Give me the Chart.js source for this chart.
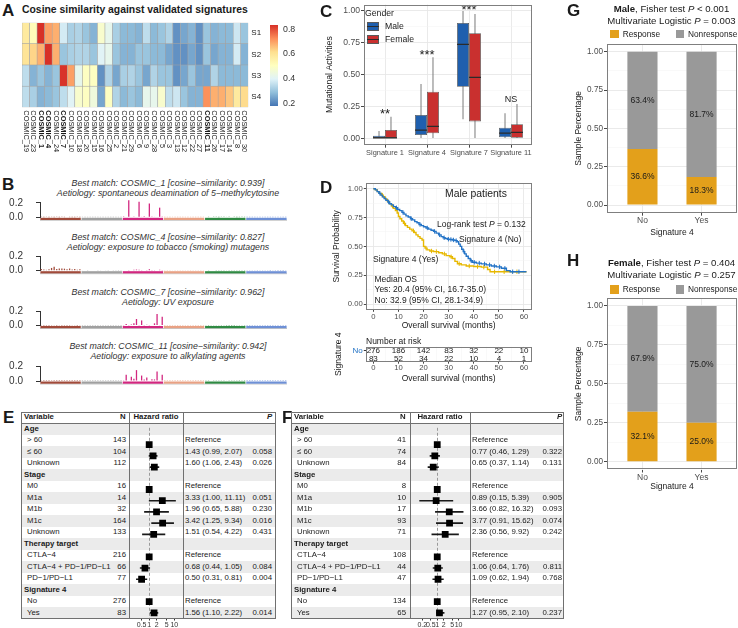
<!DOCTYPE html>
<html>
<head>
<meta charset="utf-8">
<script src="https://cdn.jsdelivr.net/npm/chart.js@4.4.1/dist/chart.umd.min.js"></script>
<style>
html, body { margin: 0; padding: 0; background: #fff; }
#fig { position: relative; width: 738px; height: 628px; overflow: hidden; font-family: "Liberation Sans", Arial, sans-serif; color: #1a1a1a; }
#fig canvas { position: absolute; }
.tx { position: absolute; white-space: nowrap; line-height: 1; }
.bx { position: absolute; box-sizing: border-box; }
</style>
</head>
<body>
<div id="fig"></div>
<script>
// ---- A: cosine similarity heatmap ----
var cosmicLabels = ['COSMIC_19','COSMIC_23','COSMIC_1','COSMIC_4','COSMIC_24','COSMIC_7','COSMIC_10','COSMIC_18','COSMIC_20','COSMIC_15',
  'COSMIC_16','COSMIC_25','COSMIC_2','COSMIC_21','COSMIC_29','COSMIC_6','COSMIC_9','COSMIC_28','COSMIC_5','COSMIC_3',
  'COSMIC_13','COSMIC_12','COSMIC_22','COSMIC_27','COSMIC_11','COSMIC_26','COSMIC_17','COSMIC_14','COSMIC_8','COSMIC_30'];
var boldCosmic = ['COSMIC_1','COSMIC_4','COSMIC_7','COSMIC_11'];
var sigRows = ['S1','S2','S3','S4'];
var cosS1 = [0.58,0.52,0.84,0.70,0.68,0.38,0.32,0.33,0.30,0.27,0.48,0.42,0.32,0.28,0.28,0.27,0.35,0.28,0.30,0.33,0.22,0.25,0.27,0.22,0.30,0.27,0.28,0.28,0.37,0.30];
var cosS2 = [0.60,0.63,0.68,0.84,0.68,0.30,0.32,0.33,0.33,0.30,0.40,0.42,0.30,0.27,0.27,0.30,0.30,0.28,0.28,0.25,0.22,0.22,0.25,0.22,0.30,0.25,0.27,0.27,0.38,0.27];
var cosS3 = [0.35,0.27,0.30,0.27,0.30,0.83,0.70,0.42,0.50,0.50,0.22,0.33,0.25,0.32,0.33,0.30,0.25,0.33,0.30,0.30,0.22,0.25,0.30,0.25,0.25,0.33,0.28,0.28,0.28,0.28];
var cosS4 = [0.35,0.32,0.27,0.28,0.30,0.35,0.40,0.48,0.50,0.45,0.25,0.50,0.33,0.28,0.30,0.28,0.42,0.42,0.48,0.35,0.37,0.30,0.27,0.27,0.72,0.68,0.68,0.65,0.58,0.62];
var colourbarTicks = [0.2, 0.4, 0.6, 0.8];

// ---- B: signature profiles (96 trinucleotide channels) ----
var mutTypes = ['C>A','C>G','C>T','T>A','T>C','T>G'];
var mutColours = ['#A14A3A','#A0A0A0','#D2267F','#E9A184','#2F8A43','#6E90D6'];
var sig1Profile = [
  0.004,0.002,0.004,0.002,0.003,0.002,0.005,0.002,0.003,0.002,0.006,0.002,0.002,0.002,0.004,0.002,
  0.002,0.001,0.001,0.001,0.001,0.001,0.001,0.001,0.002,0.001,0.001,0.001,0.001,0.001,0.001,0.001,
  0.012,0.006,0.236,0.009,0.010,0.007,0.214,0.008,0.016,0.009,0.190,0.010,0.006,0.006,0.133,0.005,
  0.002,0.001,0.002,0.002,0.001,0.001,0.001,0.001,0.001,0.001,0.001,0.001,0.001,0.001,0.001,0.002,
  0.007,0.003,0.009,0.004,0.003,0.002,0.004,0.003,0.008,0.003,0.007,0.004,0.002,0.002,0.003,0.002,
  0.001,0.001,0.001,0.001,0.001,0.001,0.001,0.001,0.001,0.001,0.001,0.001,0.001,0.001,0.001,0.001];
var sig2Profile = [
  0.022,0.018,0.012,0.020,0.038,0.055,0.025,0.032,0.030,0.028,0.020,0.030,0.018,0.022,0.014,0.020,
  0.008,0.005,0.003,0.006,0.006,0.005,0.003,0.005,0.006,0.005,0.003,0.005,0.004,0.004,0.002,0.004,
  0.007,0.005,0.010,0.006,0.012,0.016,0.012,0.010,0.006,0.010,0.020,0.008,0.004,0.006,0.013,0.004,
  0.004,0.003,0.004,0.005,0.003,0.003,0.003,0.004,0.004,0.003,0.003,0.004,0.003,0.003,0.002,0.004,
  0.006,0.004,0.006,0.005,0.004,0.003,0.004,0.004,0.005,0.003,0.004,0.003,0.003,0.003,0.003,0.003,
  0.002,0.002,0.002,0.002,0.002,0.002,0.003,0.002,0.002,0.001,0.002,0.002,0.001,0.001,0.001,0.002];
var sig3Profile = [
  0.002,0.001,0.001,0.001,0.002,0.002,0.001,0.002,0.001,0.001,0.001,0.001,0.002,0.002,0.001,0.002,
  0.001,0.001,0.001,0.001,0.001,0.001,0.001,0.001,0.001,0.001,0.001,0.001,0.001,0.001,0.001,0.001,
  0.004,0.020,0.003,0.015,0.030,0.090,0.004,0.070,0.005,0.010,0.002,0.006,0.030,0.160,0.005,0.120,
  0.001,0.001,0.001,0.001,0.001,0.001,0.001,0.001,0.001,0.001,0.001,0.001,0.001,0.001,0.001,0.001,
  0.002,0.001,0.002,0.002,0.002,0.003,0.002,0.002,0.001,0.001,0.001,0.001,0.002,0.003,0.002,0.002,
  0.001,0.001,0.001,0.001,0.001,0.001,0.001,0.001,0.001,0.001,0.001,0.001,0.001,0.001,0.001,0.001];
var sig4Profile = [
  0.002,0.001,0.001,0.001,0.002,0.001,0.001,0.001,0.001,0.001,0.001,0.001,0.001,0.001,0.001,0.001,
  0.001,0.001,0.001,0.001,0.001,0.001,0.001,0.001,0.001,0.001,0.001,0.001,0.001,0.001,0.001,0.001,
  0.010,0.085,0.008,0.060,0.030,0.150,0.008,0.075,0.020,0.050,0.006,0.025,0.022,0.130,0.008,0.085,
  0.001,0.001,0.001,0.001,0.001,0.001,0.001,0.001,0.001,0.001,0.001,0.001,0.001,0.001,0.001,0.001,
  0.004,0.003,0.006,0.004,0.003,0.003,0.004,0.003,0.006,0.003,0.005,0.004,0.002,0.002,0.003,0.002,
  0.001,0.001,0.001,0.001,0.001,0.001,0.001,0.001,0.001,0.001,0.001,0.001,0.001,0.001,0.001,0.001];
var sigTitles = [
  ['Best match: COSMIC_1 [cosine\u2212similarity: 0.939]', 'Aetiology: spontaneous deamination of 5\u2212methylcytosine'],
  ['Best match: COSMIC_4 [cosine\u2212similarity: 0.827]', 'Aetiology: exposure to tobacco (smoking) mutagens'],
  ['Best match: COSMIC_7 [cosine\u2212similarity: 0.962]', 'Aetiology: UV exposure'],
  ['Best match: COSMIC_11 [cosine\u2212similarity: 0.942]', 'Aetiology: exposure to alkylating agents']];

// ---- C: mutational activities by gender ----
var sigGroups = ['Signature 1','Signature 4','Signature 7','Signature 11'];
var maleMin = [0, 0, 0.15, 0];
var maleQ1 = [0, 0.026, 0.405, 0.008];
var maleMed = [0.004, 0.065, 0.738, 0.040];
var maleQ3 = [0.020, 0.183, 0.905, 0.084];
var maleMax = [0.058, 0.427, 1.0, 0.196];
var femaleMin = [0, 0, 0, 0];
var femaleQ1 = [0, 0.040, 0.133, 0.005];
var femaleMed = [0.004, 0.094, 0.479, 0.047];
var femaleQ3 = [0.065, 0.366, 0.825, 0.110];
var femaleMax = [0.170, 0.636, 0.977, 0.270];
var sigStars = ['**','***','***','NS'];

// ---- D: Kaplan-Meier, male patients ----
var kmTimesNo = [0,0.8,1.5,2.2,3,3.6,4.3,5,5.8,6.5,7.2,8,8.9,9.7,10.5,11.4,12.2,13,13.9,14.8,15.6,16.5,17.4,18.2,19.1,20,21,22,23,24,
  25,26,27,27.8,28.6,29.5,30.5,31.5,32.5,33.4,34,34.6,35.2,35.8,36.4,37,37.8,38.6,39.5,41,43,45,47,49,51,53,54.5,57,59,61];
var kmSurvNo = [1,0.99,0.975,0.96,0.945,0.93,0.915,0.9,0.885,0.87,0.86,0.845,0.835,0.82,0.81,0.795,0.78,0.765,0.755,0.74,0.73,0.715,0.705,0.69,0.68,0.67,0.66,0.65,0.64,0.63,
  0.615,0.6,0.585,0.575,0.568,0.562,0.56,0.556,0.55,0.54,0.52,0.5,0.475,0.455,0.435,0.415,0.395,0.375,0.362,0.355,0.348,0.34,0.33,0.322,0.31,0.29,0.28,0.28,0.28,0.28];
var censorNo = [2.6,6.1,9.2,11.8,15.1,18.6,21.5,24.4,26.4,28.2,29.9,30.9,31.9,33.0,36.1,39.0,40.2,42.2,44.3,46.3,48.2,50.3,52.4,55.5,58.0];
var kmTimesYes = [0,0.8,1.6,2.4,3.2,4,4.8,5.6,6.4,7.2,8,8.8,9.5,10,10.6,11.3,12,12.8,13.6,14.5,15.4,16.3,17,17.8,18.6,19.4,20,20.6,21.4,22.5,
  24,26,27.5,29,30.5,31.5,32.5,33.5,35,37,40,43,45.5,46.5,50,55,61];
var kmSurvYes = [1,0.99,0.975,0.96,0.945,0.93,0.91,0.89,0.87,0.85,0.83,0.81,0.79,0.76,0.74,0.72,0.7,0.68,0.665,0.65,0.635,0.62,0.6,0.585,0.57,0.555,0.5,0.485,0.47,0.46,
  0.455,0.445,0.435,0.42,0.41,0.395,0.37,0.35,0.34,0.33,0.325,0.32,0.3,0.28,0.28,0.28,0.28];
var censorYes = [3.6,7.6,12.4,16.0,21.0,23.2,25.1,28.3,31.0,34.2,38.2,41.5,44.0,48.3,52.1,57.2];
var riskGroups = ['No','Yes'];
var riskTimes = [0,10,20,30,40,50,60];
var riskNo = [276,186,142,83,32,22,10];
var riskYes = [83,52,34,22,10,4,1];

// ---- E / F: forest plots ----
var forestVars = ['Age','> 60','\u2264 60','Unknown','Stage','M0','M1a','M1b','M1c','Unknown','Therapy target',
  'CTLA\u22124','CTLA\u22124 + PD\u22121/PD\u2212L1','PD\u22121/PD\u2212L1','Signature 4','No','Yes'];
var maleN = [null,143,104,112,null,16,14,32,164,133,null,216,66,77,null,276,83];
var maleHR = [null,1,1.43,1.60,null,1,3.33,1.96,3.42,1.51,null,1,0.68,0.50,null,1,1.56];
var maleLo = [null,null,0.99,1.06,null,null,1.00,0.65,1.25,0.54,null,null,0.44,0.31,null,null,1.10];
var maleHi = [null,null,2.07,2.43,null,null,11.11,5.88,9.34,4.22,null,null,1.05,0.81,null,null,2.22];
var maleP = [null,null,'0.058','0.026',null,null,'0.051','0.230','0.016','0.431',null,null,'0.084','0.004',null,null,'0.014'];
var femaleN = [null,41,74,84,null,8,10,17,93,71,null,108,44,47,null,134,65];
var femaleHR = [null,1,0.77,0.65,null,1,0.89,3.66,3.77,2.36,null,1,1.06,1.09,null,1,1.27];
var femaleLo = [null,null,0.46,0.37,null,null,0.15,0.82,0.91,0.56,null,null,0.64,0.62,null,null,0.95];
var femaleHi = [null,null,1.29,1.14,null,null,5.39,16.32,15.62,9.92,null,null,1.76,1.94,null,null,2.10];
var femaleP = [null,null,'0.322','0.131',null,null,'0.905','0.093','0.074','0.242',null,null,'0.811','0.768',null,null,'0.237'];

// ---- G / H: response by signature 4 ----
var respGroups = ['No','Yes'];
var maleResponse = [0.366, 0.183];
var maleNonresponse = [0.634, 0.817];
var femaleResponse = [0.321, 0.250];
var femaleNonresponse = [0.679, 0.750];

var FONT = '"Liberation Sans", Arial, sans-serif';
Chart.defaults.font.family = FONT;
Chart.defaults.font.size = 8;
Chart.defaults.color = '#4d4d4d';
Chart.defaults.animation = false;
Chart.defaults.plugins.legend.display = false;
Chart.defaults.plugins.tooltip.enabled = false;

var fig = document.getElementById('fig');

function mk(left, top, w, h) {
  var c = document.createElement('canvas');
  c.width = w; c.height = h;
  c.style.left = left + 'px'; c.style.top = top + 'px';
  c.style.width = w + 'px'; c.style.height = h + 'px';
  fig.appendChild(c);
  return c;
}

function txt(html, x, cy, size, css, centred) {
  var d = document.createElement('div');
  d.className = 'tx';
  d.innerHTML = html;
  d.style.left = x + 'px';
  d.style.top = (cy - size / 2) + 'px';
  d.style.fontSize = size + 'px';
  if (css) d.style.cssText += css;
  if (centred) d.style.transform = 'translateX(-50%)';
  fig.appendChild(d);
  return d;
}

function box(x, y, w, h, css) {
  var d = document.createElement('div');
  d.className = 'bx';
  d.style.cssText += 'left:' + x + 'px;top:' + y + 'px;width:' + w + 'px;height:' + h + 'px;' + (css || '');
  fig.appendChild(d);
  return d;
}

// fixes an axis box size and drops the label overhang padding so the plot area lands where we want it
function fitBox(w, h) {
  return function (s) {
    if (w != null) s.width = w;
    if (h != null) s.height = h;
    s.paddingLeft = s.paddingRight = s.paddingTop = s.paddingBottom = 0;
  };
}

function ggTicks(majors, minors) {
  return function (s) {
    s.ticks = majors.map(function (v) { return {value: v, mj: true}; })
      .concat(minors.map(function (v) { return {value: v, mj: false}; }))
      .sort(function (a, b) { return a.value - b.value; });
  };
}
function ggLabel(fmt) {
  return function (v, i, ticks) { return ticks[i].mj ? fmt(v) : ''; };
}
var ggGrid = {
  color: function (c) { return c.tick && c.tick.mj ? '#e8e8e8' : '#f3f3f3'; },
  lineWidth: function (c) { return c.tick && c.tick.mj ? 0.9 : 0.5; },
  tickColor: function (c) { return c.tick && c.tick.mj ? '#333' : 'rgba(0,0,0,0)'; },
  tickLength: 3
};

var panelBorder = {
  id: 'panelBorder',
  afterDatasetsDraw: function (c) {
    var a = c.chartArea, ctx = c.ctx;
    ctx.save();
    ctx.strokeStyle = '#7f7f7f';
    ctx.lineWidth = 1;
    ctx.strokeRect(Math.round(a.left) + 0.5, Math.round(a.top) + 0.5, Math.round(a.width) - 1, Math.round(a.height) - 1);
    ctx.restore();
  }
};

function hex(h) { return [1, 3, 5].map(function (k) { return parseInt(h.substr(k, 2), 16); }); }
var heatPalette = ['#4575B4','#91BFDB','#E0F3F8','#FFFFBF','#FEE090','#FC8D59','#D73027'];
var heatMin = 0.178, heatMax = 0.834;
function heatColour(v) {
  var t = Math.min(1, Math.max(0, (v - heatMin) / (heatMax - heatMin))) * (heatPalette.length - 1);
  var i = Math.min(Math.floor(t), heatPalette.length - 2), f = t - i;
  var a = hex(heatPalette[i]), b = hex(heatPalette[i + 1]);
  return 'rgb(' + [0, 1, 2].map(function (k) { return Math.round(a[k] + (b[k] - a[k]) * f); }).join(',') + ')';
}

// ================= A =================
txt('A', 2, 10, 17, 'font-weight:bold;');
txt('Cosine similarity against validated signatures', 22, 10.5, 10.4, 'font-weight:bold;');

var heatLabels = {
  id: 'heatLabels',
  afterDraw: function (c) {
    var ctx = c.ctx, a = c.chartArea, xs = c.scales.x, ys = c.scales.y;
    ctx.save();
    ctx.fillStyle = '#1a1a1a';
    ctx.textBaseline = 'middle';
    ctx.textAlign = 'left';
    cosmicLabels.forEach(function (lab, i) {
      ctx.save();
      ctx.translate(xs.getPixelForValue(i), a.bottom + 3);
      ctx.rotate(Math.PI / 2);
      ctx.font = (boldCosmic.indexOf(lab) >= 0 ? 'bold ' : '') + '7.4px ' + FONT;
      ctx.fillText(lab, 0, 0);
      ctx.restore();
    });
    ctx.font = '8px ' + FONT;
    sigRows.forEach(function (r, k) { ctx.fillText(r, a.right + 3, ys.getPixelForValue(3.5 - k)); });
    ctx.restore();
  }
};
new Chart(mk(0, 18, 300, 145), {
  type: 'bar',
  data: {
    labels: cosmicLabels,
    datasets: [cosS4, cosS3, cosS2, cosS1].map(function (vals) {
      return {
        data: vals.map(function () { return 1; }),
        backgroundColor: vals.map(heatColour),
        borderColor: '#a3a3a3', borderWidth: 0.6, borderSkipped: false,
        barPercentage: 1, categoryPercentage: 1
      };
    })
  },
  options: {
    responsive: false,
    layout: {padding: {left: 22, top: 4.7, right: 51.7, bottom: 55.7}},
    scales: {
      x: {display: false, stacked: true},
      y: {display: false, stacked: true, min: 0, max: 4}
    }
  },
  plugins: [heatLabels]
});
box(270, 25, 8, 81, 'background:linear-gradient(to top,' + heatPalette.join(',') + ');');
colourbarTicks.forEach(function (v) {
  var y = 106 - (v - heatMin) / (heatMax - heatMin) * 81;
  box(278, y, 2, 0.8, 'background:#fff;');
  txt(v.toFixed(1), 283, y, 8.8, 'color:#333;');
});

// ================= B =================
txt('B', 2, 184, 17, 'font-weight:bold;');
var profileZero = [217.3, 270.7, 325.5, 381];
var titleRows = [[183.3, 193.3], [237.3, 247.3], [292.3, 302], [346.5, 356]];
var contexts = [];
mutTypes.forEach(function (m) {
  ['A','C','G','T'].forEach(function (l) {
    ['A','C','G','T'].forEach(function (r) { contexts.push(l + '[' + m + ']' + r); });
  });
});
var mutStrip = {
  id: 'mutStrip',
  afterDatasetsDraw: function (c) {
    var xs = c.scales.x, a = c.chartArea, ctx = c.ctx;
    var step = xs.getPixelForValue(1) - xs.getPixelForValue(0);
    ctx.save();
    ctx.fillStyle = '#c8c8c8';
    ctx.fillRect(a.left, a.bottom + 2.5, a.width, 1);
    mutTypes.forEach(function (m, g) {
      var x1 = xs.getPixelForValue(g * 16) - step / 2 + 0.4;
      var x2 = xs.getPixelForValue(g * 16 + 15) + step / 2 - 0.4;
      ctx.fillStyle = mutColours[g];
      ctx.fillRect(x1, a.bottom + 0.5, x2 - x1, 2.2);
    });
    ctx.restore();
  }
};
[sig1Profile, sig2Profile, sig3Profile, sig4Profile].forEach(function (prof, k) {
  var y0 = profileZero[k], top = Math.round(y0 - 27), h = 36;
  titleRows[k].forEach(function (cy, j) {
    txt(sigTitles[k][j], 168, cy, 8.8, 'font-style:italic;color:#333;', true);
  });
  new Chart(mk(0, top, 295, h), {
    type: 'bar',
    data: {
      labels: contexts,
      datasets: [{
        data: prof,
        backgroundColor: contexts.map(function (c, i) { return mutColours[Math.floor(i / 16)]; }),
        barPercentage: 0.5, categoryPercentage: 1, clip: false
      }]
    },
    options: {
      responsive: false,
      layout: {padding: {left: 0, right: 8, top: y0 - 14.5 - top, bottom: top + h - y0}},
      scales: {
        x: {display: false},
        y: {
          min: 0, max: 0.2,
          afterBuildTicks: function (s) { s.ticks = [{value: 0}, {value: 0.2}]; },
          afterFit: fitBox(40, null),
          ticks: {autoSkip: false, padding: 13, font: {size: 10}, color: '#333', callback: function (v) { return v.toFixed(1); }},
          grid: {drawOnChartArea: false, tickLength: 4, tickColor: '#333', lineWidth: 1},
          border: {display: true, color: '#333', width: 1}
        }
      }
    },
    plugins: [mutStrip]
  });
});

// ================= C =================
txt('C', 320, 11, 17, 'font-weight:bold;');
function boxSet(stack, mins, q1, med, q3, maxs, fill) {
  return [
    {label: stack + ' median', stack: stack, data: med.map(function (m) { return [m - 0.005, m + 0.005]; }),
      backgroundColor: '#2b2b2b', barPercentage: 1, categoryPercentage: 0.57},
    {label: stack, stack: stack, data: q1.map(function (q, i) { return [q, q3[i]]; }),
      backgroundColor: fill, borderColor: '#5a5a5a', borderWidth: 0.8, borderSkipped: false,
      barPercentage: 1, categoryPercentage: 0.57},
    {label: stack + ' whisker', stack: stack, data: mins.map(function (m, i) { return [m, maxs[i]]; }),
      backgroundColor: '#7a7a7a', maxBarThickness: 1, barPercentage: 1, categoryPercentage: 0.57}
  ];
}
var starLabels = {
  id: 'starLabels',
  afterDatasetsDraw: function (c) {
    var ctx = c.ctx, xs = c.scales.x, ys = c.scales.y;
    ctx.save();
    ctx.fillStyle = '#1a1a1a';
    ctx.textAlign = 'center';
    ctx.textBaseline = 'alphabetic';
    sigGroups.forEach(function (g, i) {
      var py = ys.getPixelForValue(Math.max(maleMax[i], femaleMax[i]));
      var ns = sigStars[i] === 'NS';
      ctx.font = (ns ? '9px ' : '13px ') + FONT;
      ctx.fillText(sigStars[i], xs.getPixelForValue(i), ns ? py - 2.4 : Math.max(py + 1.5, 14));
    });
    ctx.restore();
  }
};
new Chart(mk(322, 0, 216, 165), {
  type: 'bar',
  data: {
    labels: sigGroups,
    datasets: boxSet('Male', maleMin, maleQ1, maleMed, maleQ3, maleMax, '#1F5FAE')
      .concat(boxSet('Female', femaleMin, femaleQ1, femaleMed, femaleQ3, femaleMax, '#C9302F'))
  },
  options: {
    responsive: false,
    layout: {padding: {left: 0, right: 6, top: 4.6, bottom: 0}},
    scales: {
      x: {
        stacked: true, offset: true,
        afterFit: fitBox(null, 20.3),
        ticks: {autoSkip: false, maxRotation: 0, padding: 1.2, font: {size: 7.4}},
        grid: {offset: false, color: '#e8e8e8', lineWidth: 0.9, tickColor: '#333', tickLength: 3},
        border: {display: false}
      },
      y: {
        stacked: false, min: -0.05, max: 1.05,
        afterBuildTicks: ggTicks([0, 0.25, 0.5, 0.75, 1], [0.125, 0.375, 0.625, 0.875]),
        afterFit: fitBox(42, null),
        ticks: {autoSkip: false, padding: 1, font: {size: 8.6}, callback: ggLabel(function (v) { return v.toFixed(2); })},
        grid: ggGrid,
        border: {display: false},
        title: {display: true, text: 'Mutational Activities', color: '#1a1a1a', font: {size: 8.7}, padding: {top: 2.5, bottom: 0}}
      }
    }
  },
  plugins: [starLabels, panelBorder]
});
txt('Gender', 365, 13.3, 8.7);
[['Male', '#1F5FAE', 26], ['Female', '#C9302F', 39.5]].forEach(function (g) {
  box(367, g[2] - 4.5, 11.5, 9, 'background:' + g[1] + ';border:0.8px solid #5a5a5a;');
  box(367, g[2] - 0.5, 11.5, 1, 'background:#2b2b2b;');
  txt(g[0], 385, g[2], 8.7);
});

// ================= D =================
txt('D', 320, 187, 17, 'font-weight:bold;');
// survival level of a step curve at time t, used to sit the censor ticks on their curve
function survAt(times, surv, t) {
  var s = surv[0];
  for (var i = 0; i < times.length && times[i] <= t; i++) s = surv[i];
  return s;
}
var ggX60 = ggTicks([0, 10, 20, 30, 40, 50, 60], [5, 15, 25, 35, 45, 55]);
function censorSet(times, surv, cens, colour) {
  return {
    data: cens.map(function (t) { return {x: t, y: survAt(times, surv, t)}; }),
    showLine: false, pointStyle: 'line', rotation: 90, pointRadius: 2.2,
    pointBorderColor: colour, pointBorderWidth: 1
  };
}
new Chart(mk(322, 178, 216, 156), {
  type: 'line',
  data: {
    datasets: [
      censorSet(kmTimesNo, kmSurvNo, censorNo, '#2373C6'),
      {data: kmTimesNo.map(function (t, i) { return {x: t, y: kmSurvNo[i]}; }),
        borderColor: '#2373C6', borderWidth: 1.4, stepped: true, pointRadius: 0},
      censorSet(kmTimesYes, kmSurvYes, censorYes, '#E7B800'),
      {data: kmTimesYes.map(function (t, i) { return {x: t, y: kmSurvYes[i]}; }),
        borderColor: '#E7B800', borderWidth: 1.4, stepped: true, pointRadius: 0}
    ]
  },
  options: {
    responsive: false,
    layout: {padding: {left: 0, right: 6.5, top: 3.5, bottom: 0}},
    scales: {
      x: {
        type: 'linear', min: -3, max: 63,
        afterBuildTicks: ggX60,
        afterFit: fitBox(null, 24.2),
        ticks: {autoSkip: false, maxRotation: 0, padding: 0, font: {size: 7.7}, callback: ggLabel(function (v) { return String(v); })},
        grid: Object.assign({}, ggGrid, {tickLength: 2}),
        border: {display: false},
        title: {display: true, text: 'Overall survival (months)', color: '#1a1a1a', font: {size: 8.5}, padding: {top: 0, bottom: 2.9}}
      },
      y: {
        min: -0.05, max: 1.05,
        afterBuildTicks: ggTicks([0, 0.25, 0.5, 0.75, 1], [0.125, 0.375, 0.625, 0.875]),
        afterFit: fitBox(43.8, null),
        ticks: {autoSkip: false, padding: 1, font: {size: 7.7}, callback: ggLabel(function (v) { return v.toFixed(2); })},
        grid: Object.assign({}, ggGrid, {tickLength: 2}),
        border: {display: false},
        title: {display: true, text: 'Survival Probability', color: '#1a1a1a', font: {size: 8.5}, padding: {top: 9.9, bottom: 0}}
      }
    }
  },
  plugins: [panelBorder]
});
txt('Male patients', 476, 194, 10.4, '', true);
txt('Log-rank test <i>P</i> = 0.132', 437, 224, 8.5);
txt('Signature 4 (No)', 459, 239, 8.5);
txt('Signature 4 (Yes)', 373, 259, 8.5);
txt('Median OS', 374.5, 279, 8.5);
txt('Yes: 20.4 (95% CI, 16.7-35.0)', 374.5, 289.3, 8.5);
txt('No: 32.9 (95% CI, 28.1-34.9)', 374.5, 299.8, 8.5);

txt('Number at risk', 366, 341.7, 8.5);
var riskCounts = {
  id: 'riskCounts',
  afterDatasetsDraw: function (c) {
    var ctx = c.ctx;
    ctx.save();
    ctx.fillStyle = '#1a1a1a';
    ctx.font = '8px ' + FONT;
    ctx.textAlign = 'center';
    ctx.textBaseline = 'middle';
    c.data.datasets.forEach(function (ds, k) {
      c.getDatasetMeta(k).data.forEach(function (el, j) { ctx.fillText(String(ds.counts[j]), el.x, el.y + 0.5); });
    });
    ctx.restore();
  }
};
new Chart(mk(322, 318, 216, 72), {
  type: 'line',
  data: {
    datasets: [
      {data: riskTimes.map(function (t) { return {x: t, y: 'No'}; }), counts: riskNo, showLine: false, pointRadius: 0},
      {data: riskTimes.map(function (t) { return {x: t, y: 'Yes'}; }), counts: riskYes, showLine: false, pointRadius: 0}
    ]
  },
  options: {
    responsive: false,
    layout: {padding: {left: 0, right: 6.5, top: 28.7, bottom: 0}},
    scales: {
      x: {
        type: 'linear', min: -3, max: 63,
        afterBuildTicks: ggX60,
        afterFit: fitBox(null, 28.3),
        ticks: {autoSkip: false, maxRotation: 0, padding: 0, font: {size: 7.7}, callback: ggLabel(function (v) { return String(v); })},
        grid: Object.assign({}, ggGrid, {tickLength: 2}),
        border: {display: false},
        title: {display: true, text: 'Overall survival (months)', color: '#1a1a1a', font: {size: 8.5}, padding: {top: 0, bottom: 5.9}}
      },
      y: {
        type: 'category', labels: riskGroups, offset: true,
        afterFit: fitBox(43.8, null),
        ticks: {padding: 1, font: {size: 8}, color: function (c) { return c.index === 0 ? '#2373C6' : '#E7B800'; }},
        grid: {drawOnChartArea: false, tickLength: 2, tickColor: '#333'},
        border: {display: false},
        title: {display: true, text: 'Signature 4', color: '#1a1a1a', font: {size: 8.5}, padding: {top: 11.2, bottom: 0}}
      }
    }
  },
  plugins: [riskCounts, panelBorder]
});

// ================= E / F =================
var TABLE_TOP = 411.5, HEAD_H = 11.5, ROW_H = 11.5;
var refLine = {
  id: 'refLine',
  beforeDatasetsDraw: function (c) {
    var ctx = c.ctx, a = c.chartArea, x = Math.round(c.scales.x.getPixelForValue(1)) + 0.5;
    ctx.save();
    ctx.strokeStyle = '#9a9a9a';
    ctx.lineWidth = 1;
    ctx.setLineDash([3, 2]);
    ctx.beginPath(); ctx.moveTo(x, a.top); ctx.lineTo(x, a.bottom); ctx.stroke();
    ctx.restore();
  }
};
function buildForest(o) {
  var w = o.right - o.left, fullH = HEAD_H + ROW_H * forestVars.length;
  box(o.left, TABLE_TOP, w, fullH, 'background:#fff;');
  var hcy = TABLE_TOP + HEAD_H / 2;
  txt('Variable', o.left + 3, hcy, 7.8, 'font-weight:bold;');
  txt('N', o.nRight - 6, hcy, 7.8, 'font-weight:bold;');
  txt('Hazard ratio', (o.hrL + o.hrR) / 2, hcy, 7.8, 'font-weight:bold;', true);
  txt('P', o.pRight - 5, hcy, 7.8, 'font-weight:bold;font-style:italic;');
  forestVars.forEach(function (v, i) {
    var top = TABLE_TOP + HEAD_H + i * ROW_H, cy = top + ROW_H / 2;
    if (i % 2 === 0) box(o.left, top, w, ROW_H, 'background:#ebebeb;');
    var group = o.n[i] == null;
    txt(v, o.left + (group ? 3 : 6), cy, 7.8, group ? 'font-weight:bold;' : '');
    if (!group) {
      var n = txt(String(o.n[i]), 0, cy, 7.8);
      n.style.left = 'auto'; n.style.right = (738 - o.nRight) + 'px';
      var est = o.lo[i] == null ? 'Reference'
        : o.hr[i].toFixed(2) + ' (' + o.lo[i].toFixed(2) + ', ' + o.hi[i].toFixed(2) + ')';
      txt(est, o.estL, cy, 7.8);
      if (o.p[i]) {
        var p = txt(o.p[i], 0, cy, 7.8);
        p.style.left = 'auto'; p.style.right = (738 - o.pRight) + 'px';
      }
    }
  });
  new Chart(mk(o.hrL, TABLE_TOP + HEAD_H, o.hrR - o.hrL, Math.round(628 - TABLE_TOP - HEAD_H)), {
    type: 'bar',
    data: {
      labels: forestVars.map(function (v, i) { return String(i); }),
      datasets: [
        {type: 'line', indexAxis: 'y', data: o.hr, showLine: false, pointStyle: 'rect', pointRadius: 4.8,
          pointBackgroundColor: '#000', pointBorderWidth: 0},
        {type: 'bar', indexAxis: 'y', data: o.lo.map(function (l, i) { return l == null ? null : [l, o.hi[i]]; }),
          backgroundColor: '#1a1a1a', barThickness: 1}
      ]
    },
    options: {
      indexAxis: 'y',
      responsive: false,
      layout: {padding: 0},
      scales: {
        x: {
          type: 'logarithmic', min: o.xmin, max: o.xmax,
          afterBuildTicks: function (s) { s.ticks = o.xticks.map(function (v) { return {value: v}; }); },
          afterFit: fitBox(null, Math.round(628 - TABLE_TOP - HEAD_H) - ROW_H * forestVars.length),
          ticks: {autoSkip: false, maxRotation: 0, padding: 0, font: {size: 7}, color: '#333', callback: function (v) { return String(v); }},
          grid: {drawOnChartArea: false, tickLength: 2, tickColor: '#333'},
          border: {display: false}
        },
        y: {type: 'category', display: false, offset: true}
      }
    },
    plugins: [refLine]
  });
  var lineCss = 'background:#707070;';
  box(o.hrL, TABLE_TOP, 1, fullH, lineCss);
  box(o.hrR, TABLE_TOP, 1, fullH, lineCss);
  box(o.left, TABLE_TOP + HEAD_H, w, 1, lineCss);
  box(o.left, TABLE_TOP, w, fullH, 'border:1px solid #707070;');
}
txt('E', 3, 417, 17, 'font-weight:bold;');
buildForest({left: 21, right: 276, nRight: 126, hrL: 129, hrR: 183, estL: 185, pRight: 272,
  n: maleN, hr: maleHR, lo: maleLo, hi: maleHi, p: maleP, xmin: 0.245, xmax: 14.2, xticks: [0.5, 1, 2, 5, 10]});
txt('F', 282, 417, 17, 'font-weight:bold;');
buildForest({left: 291, right: 564, nRight: 406, hrL: 410, hrR: 470, estL: 472, pRight: 562,
  n: femaleN, hr: femaleHR, lo: femaleLo, hi: femaleHi, p: femaleP, xmin: 0.089, xmax: 20.4, xticks: [0.2, 0.5, 1, 2, 5, 10]});

// ================= G / H =================
var pctLabels = {
  id: 'pctLabels',
  afterDatasetsDraw: function (c) {
    var ctx = c.ctx;
    ctx.save();
    ctx.fillStyle = '#1a1a1a';
    ctx.font = '8.5px ' + FONT;
    ctx.textAlign = 'center';
    ctx.textBaseline = 'middle';
    c.data.datasets.forEach(function (ds, k) {
      c.getDatasetMeta(k).data.forEach(function (el, j) {
        ctx.fillText((ds.data[j].y * 100).toFixed(1) + '%', el.x, (el.y + el.base) / 2);
      });
    });
    ctx.restore();
  }
};
function responseChart(top, padTop, axisH, resp, nonresp) {
  new Chart(mk(567, top, 171, 200), {
    type: 'bar',
    data: {
      datasets: [
        {label: 'Response', data: resp.map(function (v, i) { return {x: i + 1, y: v}; }),
          backgroundColor: '#E3A01B', barPercentage: 1, categoryPercentage: 0.51},
        {label: 'Nonresponse', data: nonresp.map(function (v, i) { return {x: i + 1, y: v}; }),
          backgroundColor: '#999999', barPercentage: 1, categoryPercentage: 0.51}
      ]
    },
    options: {
      responsive: false,
      layout: {padding: {left: 0, right: 1, top: padTop, bottom: 0}},
      scales: {
        x: {
          type: 'linear', stacked: true, offset: false, min: 0.4, max: 2.6,
          afterBuildTicks: function (s) { s.ticks = respGroups.map(function (g, i) { return {value: i + 1, mj: true}; }); },
          afterFit: fitBox(null, axisH),
          ticks: {autoSkip: false, maxRotation: 0, padding: 0, font: {size: 8.5}, callback: function (v) { return respGroups[v - 1]; }},
          grid: Object.assign({}, ggGrid, {offset: false}),
          border: {display: false},
          title: {display: true, text: 'Signature 4', color: '#1a1a1a', font: {size: 8.5}, padding: {top: 0, bottom: 1.9}}
        },
        y: {
          stacked: true, min: -0.05, max: 1.05,
          afterBuildTicks: ggTicks([0, 0.25, 0.5, 0.75, 1], [0.125, 0.375, 0.625, 0.875]),
          afterFit: fitBox(40, null),
          ticks: {autoSkip: false, padding: 1, font: {size: 8.2}, callback: ggLabel(function (v) { return v.toFixed(2); })},
          grid: ggGrid,
          border: {display: false},
          title: {display: true, text: 'Sample Percentage', color: '#1a1a1a', font: {size: 8.5}, padding: {top: 6.9, bottom: 0}}
        }
      }
    },
    plugins: [pctLabels, panelBorder]
  });
}
function responseLegend(cy) {
  box(610, cy - 4.3, 8.5, 8.5, 'background:#E3A01B;');
  txt('Response', 622.7, cy, 8.3);
  box(675.5, cy - 4.3, 8.5, 8.5, 'background:#999999;');
  txt('Nonresponse', 688, cy, 8.3);
}
txt('G', 567, 10, 17, 'font-weight:bold;');
txt('<b>Male</b>, Fisher test <i>P</i> &lt; 0.001', 671.5, 8.3, 9.6, '', true);
txt('Multivariate Logistic <i>P</i> = 0.003', 671.5, 20.7, 9.6, '', true);
responseLegend(34);
responseChart(40, 4, 27.3, maleResponse, maleNonresponse);

txt('H', 567, 260, 17, 'font-weight:bold;');
txt('<b>Female</b>, Fisher test <i>P</i> = 0.404', 671.5, 262.7, 9.6, '', true);
txt('Multivariate Logistic <i>P</i> = 0.257', 671.5, 275, 9.6, '', true);
responseLegend(289.3);
responseChart(294, 4.2, 24.5, femaleResponse, femaleNonresponse);
</script>
</body>
</html>
